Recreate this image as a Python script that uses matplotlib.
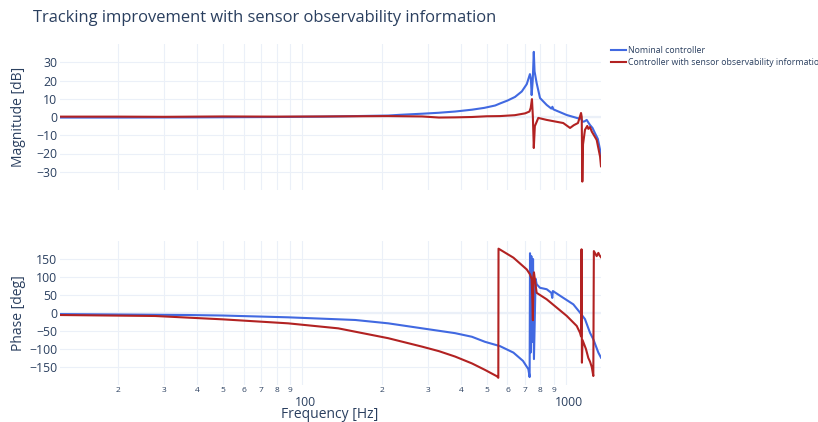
import matplotlib
matplotlib.use("Agg")
import matplotlib.pyplot as plt
from matplotlib.lines import Line2D
from matplotlib.transforms import ScaledTranslation

plt.rcParams['font.family'] = ['Open Sans', 'DejaVu Sans']

# ---------------- data ----------------
title = "Tracking improvement with sensor observability information"
series_names = ["Nominal controller", "Controller with sensor observability information"]

mag_nom_f = [12.1, 20, 40, 80, 120, 159, 212, 235, 285, 328, 380, 440, 490, 539, 562, 600,
             641, 680, 710, 730, 736, 741, 748, 755, 760, 774, 797, 845, 880, 888, 895, 1006,
             1110, 1140, 1155, 1175, 1198, 1210, 1233, 1260, 1288, 1320, 1346, 1357]
mag_nom_db = [-0.3, -0.3, -0.2, 0.0, 0.2, 0.5, 0.8, 1.2, 1.8, 2.3, 3.0, 4.0, 5.0, 6.3, 7.4, 9.0,
              11.0, 14.0, 18.0, 23.5, 21.0, 12.0, 20.0, 35.7, 25.0, 18.6, 10.4, 6.6, 4.6, 5.6, 4.2, 1.1,
              -0.7, -0.8, -2.6, -2.4, -1.6, -2.6, -4.4, -6.0, -8.9, -12.0, -18.0, -21.7]

mag_obs_f = [12.1, 20, 30, 50, 80, 120, 159, 212, 285, 330, 380, 440, 500, 562, 640, 700,
             727, 735, 743, 749, 755, 762, 774, 785, 845, 976, 1036, 1070, 1110, 1140, 1147,
             1153, 1160, 1180, 1204, 1215, 1233, 1252, 1288, 1307, 1346, 1357]
mag_obs_db = [0.2, 0.2, 0.1, 0.3, 0.2, 0.3, 0.4, 0.5, 0.3, -0.3, -0.2, 0.0, 0.4, 0.5, 1.0, 2.0,
              3.0, 5.0, 9.8, 0.0, -17.0, -5.0, -2.7, -0.5, -1.6, -3.3, -6.0, -4.5, -3.3, 2.2, 0.0,
              -35.4, -15.0, -7.0, -4.9, -6.5, -5.5, -8.0, -11.0, -12.6, -21.7, -27.0]

ph_nom_f = [12.1, 37, 50, 88.5, 159, 212, 285, 380, 440, 493, 562, 632, 687, 720, 728, 730.5, 734,
            739, 746, 750, 756, 767, 774, 797, 845, 880, 887, 892, 977, 1066, 1130, 1180, 1233,
            1269, 1326, 1357]
ph_nom_deg = [-3, -5.6, -7, -12, -19.4, -28.7, -42.6, -56, -66, -80, -92, -110, -133, -156, -178, 166, -110,
              158, -80, 150, -128, 95, 80, 70, 66, 56, 42, 61, 42, 24, 1, -17, -55,
              -73, -110, -124]

ph_obs_f = [12.1, 27.7, 50, 88.5, 137, 212, 285, 330, 380, 440, 493, 548, 554, 555, 632, 710, 731,
            741, 746, 749, 752, 756, 774, 845, 922, 1006, 1098, 1130, 1140, 1145, 1149, 1155,
            1190, 1215, 1233, 1252, 1269, 1275, 1307, 1326, 1340, 1357]
ph_obs_deg = [-5.6, -8.3, -17.6, -28.7, -42.6, -70, -93.5, -106, -121, -140, -158, -176, -180, 178.7, 153.7, 121, 107,
              94, 30, -20, 100, 113, 56, 38, 15, -8, -36, -55, -65, 177, -138, -75,
              -100, -125, -135, -150, -175, 172, 158, 167, 160, 155]

mag_ticks = [-30, -20, -10, 0, 10, 20, 30]
ph_ticks = [-150, -100, -50, 0, 50, 100, 150]
major_x = [100, 1000]
major_x_labels = ["100", "1000"]
minor_x = [20, 30, 40, 50, 60, 70, 80, 90, 200, 300, 400, 500, 600, 700, 800, 900]
minor_x_labels = ["2", "3", "4", "5", "6", "7", "8", "9", "2", "3", "4", "5", "6", "7", "8", "9"]

# ---------------- styling ----------------
BLUE = "#4169E1"
RED = "#B22222"
GRID = "#EBF0F8"
TXT = "#2a3f5f"
W, H = 818, 422

fig = plt.figure(figsize=(W / 100, H / 100), dpi=100)
fig.patch.set_facecolor("white")

L, R = 60, 601
ax1 = fig.add_axes([L / W, 1 - 190 / H, (R - L) / W, 146 / H])
ax2 = fig.add_axes([L / W, 1 - 385 / H, (R - L) / W, 144 / H])

for ax in (ax1, ax2):
    ax.set_xscale("log")
    ax.set_xlim(12.1, 1357)
    for s in ax.spines.values():
        s.set_visible(False)
    ax.set_xticks(major_x)
    ax.set_xticks(minor_x, minor=True)
    ax.grid(True, which="both", axis="x", color=GRID, lw=0.8)
    ax.grid(True, which="major", axis="y", color=GRID, lw=0.8)
    ax.set_axisbelow(True)
    ax.tick_params(which="both", length=0, colors=TXT)
    ax.axhline(0, color=GRID, lw=1.6, zorder=0.5)

ax1.plot(mag_nom_f, mag_nom_db, color=BLUE, lw=1.5, zorder=3)
ax1.plot(mag_obs_f, mag_obs_db, color=RED, lw=1.5, zorder=4)
ax1.set_ylim(-40, 40)
ax1.set_yticks(mag_ticks)
ax1.set_yticklabels([f"{v:d}".replace("-", "\u2212") for v in mag_ticks], fontsize=8.8, color=TXT)
ax1.tick_params(axis="y", pad=2)
ax1.set_xticklabels([])
ax1.set_xticklabels([], minor=True)

ax2.plot(ph_nom_f, ph_nom_deg, color=BLUE, lw=1.5, zorder=3)
ax2.plot(ph_obs_f, ph_obs_deg, color=RED, lw=1.5, zorder=4)
ax2.set_ylim(-200, 200)
ax2.set_yticks(ph_ticks)
ax2.set_yticklabels([f"{v:d}".replace("-", "\u2212") for v in ph_ticks], fontsize=8.8, color=TXT)
ax2.tick_params(axis="y", pad=2)
ax2.set_xticklabels(major_x_labels, fontsize=8.8, color=TXT)
ax2.set_xticklabels(minor_x_labels, minor=True, fontsize=6.0, color=TXT)
ax2.tick_params(axis="x", which="major", pad=8)
ax2.tick_params(axis="x", which="minor", pad=1.5)
shift = ScaledTranslation(3 / 100, 0, fig.dpi_scale_trans)
for lab in ax2.get_xticklabels():
    lab.set_transform(lab.get_transform() + shift)

fig.text(19 / W, 1 - 117 / H, "Magnitude [dB]", rotation=90, ha="center", va="center",
         fontsize=10, color=TXT)
fig.text(19 / W, 1 - 313 / H, "Phase [deg]", rotation=90, ha="center", va="center",
         fontsize=10, color=TXT)
fig.text(330 / W, 1 - 415 / H, "Frequency [Hz]", ha="center", va="center",
         fontsize=10, color=TXT)
fig.text(33 / W, 1 - 18 / H, title, ha="left", va="center", fontsize=11.9, color=TXT)

handles = [Line2D([], [], color=BLUE, lw=1.5), Line2D([], [], color=RED, lw=1.5)]
fig.legend(handles, series_names, loc="upper left", bbox_to_anchor=(611 / W, 1 - 46 / H),
           frameon=False, fontsize=6.3, labelcolor=TXT, handlelength=1.7, handletextpad=0.3,
           labelspacing=0.35, borderaxespad=0, borderpad=0)

fig.savefig("out.png", dpi=100, facecolor="white")
